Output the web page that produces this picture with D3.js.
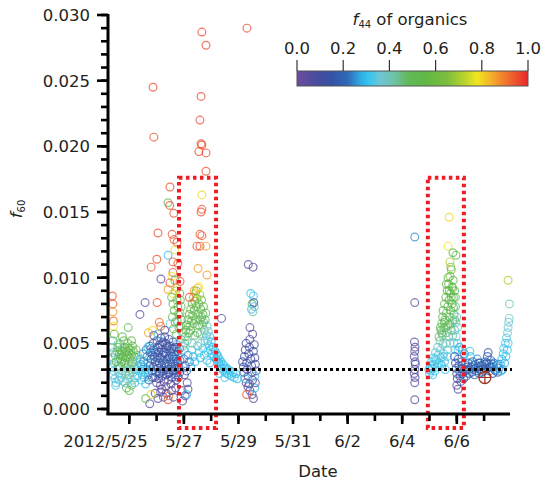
<!DOCTYPE html>
<html><head><meta charset="utf-8">
<script src="https://cdn.jsdelivr.net/npm/d3@7"></script>
<style>
body{margin:0;background:#fff}
text{font-family:"DejaVu Sans","Liberation Sans",sans-serif;fill:#231f20}
</style>
</head><body>
<svg id="c" width="546" height="483"></svg>
<script>
// ---------- DATA: [day of May (June d = 31+d), f60, f44] ----------
const earlyMass = [
[24.38,0.0086,0.95],[24.40,0.0080,0.93],[24.40,0.0074,0.86],[24.42,0.0067,0.92],[24.42,0.0063,0.78],[24.45,0.0057,0.55],
[24.40,0.0052,0.45],[24.38,0.0047,0.40],[24.42,0.0043,0.35],[24.40,0.0039,0.38],[24.45,0.0035,0.33],[24.38,0.0032,0.36],
[24.43,0.0029,0.34],[24.40,0.0026,0.32],[24.47,0.0023,0.35],[24.52,0.0020,0.34],[24.55,0.0044,0.42],[24.58,0.0038,0.40],
[24.60,0.0033,0.45],[24.55,0.0030,0.38],[24.62,0.0027,0.36],[24.65,0.0049,0.48],[24.68,0.0045,0.50],[24.70,0.0041,0.47],
[24.72,0.0036,0.52],[24.66,0.0032,0.44],[24.75,0.0029,0.40],[24.70,0.0024,0.36],[24.78,0.0021,0.38],[24.80,0.0052,0.52],
[24.82,0.0047,0.55],[24.85,0.0043,0.50],[24.88,0.0039,0.53],[24.82,0.0035,0.48],[24.90,0.0031,0.45],[24.86,0.0027,0.42],
[24.92,0.0023,0.40],[24.95,0.0050,0.55],[24.98,0.0046,0.52],[25.00,0.0042,0.50],[25.02,0.0038,0.55],[24.96,0.0034,0.50],
[25.05,0.0030,0.47],[25.00,0.0026,0.44],[24.90,0.0016,0.50],[25.00,0.0014,0.52],[25.08,0.0018,0.48],[25.12,0.0048,0.50],
[25.15,0.0044,0.52],[25.18,0.0040,0.48],[25.12,0.0036,0.50],[25.20,0.0032,0.45],[25.15,0.0028,0.40],[25.22,0.0024,0.36],
[25.25,0.0045,0.48],[25.30,0.0041,0.45],[25.28,0.0037,0.42],[25.32,0.0033,0.38],[25.35,0.0029,0.35],[25.30,0.0025,0.33],
[24.96,0.0062,0.50],[24.60,0.0050,0.38],[24.75,0.0055,0.50],[25.08,0.0052,0.55],[24.50,0.0018,0.33],[25.20,0.0020,0.32]
];
const earlyExtra = [
[24.48,0.0041,0.50],[24.52,0.0036,0.48],[24.58,0.0047,0.52],[24.63,0.0042,0.55],[24.68,0.0038,0.50],[24.74,0.0044,0.53],
[24.78,0.0040,0.55],[24.84,0.0037,0.52],[24.90,0.0044,0.55],[24.94,0.0041,0.50],[25.04,0.0045,0.52],[25.08,0.0041,0.50],
[25.10,0.0034,0.45],[25.25,0.0030,0.32],[24.62,0.0022,0.33],[24.85,0.0020,0.35],[25.12,0.0022,0.35],[24.95,0.0029,0.38]
];
const preBoxMass = [
[25.40,0.0038,0.30],[25.42,0.0034,0.28],[25.45,0.0030,0.31],[25.48,0.0026,0.30],[25.44,0.0022,0.33],[25.50,0.0042,0.27],
[25.52,0.0036,0.25],[25.55,0.0032,0.30],[25.58,0.0028,0.29],[25.54,0.0024,0.32],[25.60,0.0019,0.30],[25.62,0.0045,0.22],
[25.65,0.0040,0.24],[25.68,0.0035,0.26],[25.66,0.0030,0.30],[25.70,0.0026,0.28],[25.72,0.0022,0.18],[25.75,0.0048,0.18],
[25.78,0.0043,0.20],[25.80,0.0038,0.15],[25.76,0.0033,0.22],[25.82,0.0029,0.25],[25.85,0.0024,0.12],
[25.88,0.0050,0.15],[25.90,0.0045,0.12],[25.92,0.0040,0.18],[25.95,0.0036,0.20],[25.88,0.0032,0.14],[25.98,0.0028,0.22],
[25.93,0.0024,0.10],[26.00,0.0020,0.05],[26.02,0.0052,0.10],[26.05,0.0047,0.16],[26.08,0.0043,0.13],[26.03,0.0039,0.19],
[26.10,0.0035,0.15],[26.06,0.0031,0.12],[26.12,0.0027,0.18],[26.08,0.0023,0.08],[26.14,0.0018,0.04],[26.16,0.0054,0.12],
[26.20,0.0049,0.14],[26.18,0.0045,0.10],[26.22,0.0041,0.16],[26.25,0.0037,0.13],[26.19,0.0033,0.18],[26.27,0.0029,0.15],
[26.23,0.0025,0.11],[26.28,0.0021,0.06],[26.20,0.0015,0.03],[26.30,0.0055,0.08],[26.33,0.0050,0.15],[26.36,0.0046,0.12],
[26.32,0.0042,0.18],[26.38,0.0038,0.14],[26.35,0.0034,0.16],[26.40,0.0030,0.12],[26.37,0.0026,0.10],[26.42,0.0022,0.07],
[26.34,0.0017,0.02],[26.45,0.0053,0.12],[26.48,0.0048,0.17],[26.50,0.0044,0.14],[26.46,0.0040,0.20],[26.52,0.0036,0.15],
[26.55,0.0032,0.12],[26.50,0.0028,0.18],[26.57,0.0024,0.09],[26.53,0.0019,0.05],[26.60,0.0051,0.18],[26.63,0.0046,0.14],
[26.65,0.0042,0.20],[26.62,0.0038,0.16],[26.68,0.0034,0.22],[26.66,0.0030,0.18],[26.70,0.0026,0.15],[26.72,0.0022,0.10],
[26.75,0.0049,0.25],[26.78,0.0044,0.20],[26.80,0.0040,0.28],[26.77,0.0036,0.22],[26.82,0.0032,0.18],[26.85,0.0028,0.15],
[26.80,0.0024,0.12],
[25.95,0.0012,0.05],[26.05,0.0008,0.08],[26.15,0.0013,0.02],[26.25,0.0009,0.06],[26.35,0.0012,0.03],[26.45,0.0010,0.90],
[26.42,0.0007,0.95],[26.55,0.0014,0.04],[26.62,0.0009,0.07],[26.70,0.0016,0.05],[25.75,0.0004,0.04],[25.60,0.0008,0.50],
[25.80,0.0011,0.75],
[25.39,0.0072,0.03],[25.58,0.0081,0.02],[25.70,0.0058,0.85],[25.85,0.0060,0.80],[25.90,0.0056,0.03],[26.15,0.0063,0.90],
[26.05,0.0057,0.30],[26.30,0.0060,0.05],[26.16,0.0099,0.04]
];
const preBoxExtra = [
[25.96,0.0043,0.14],[26.00,0.0033,0.12],[26.11,0.0049,0.10],[26.14,0.0039,0.16],[26.24,0.0051,0.15],[26.28,0.0043,0.12],
[26.30,0.0035,0.20],[26.40,0.0048,0.10],[26.42,0.0034,0.18],[26.44,0.0027,0.14],[26.56,0.0046,0.12],[26.58,0.0040,0.18],
[26.60,0.0029,0.14],[26.70,0.0047,0.16],[26.72,0.0038,0.12],[26.74,0.0031,0.20],[26.84,0.0046,0.22],[26.86,0.0037,0.18],
[25.85,0.0041,0.16],[25.80,0.0046,0.25],[25.68,0.0047,0.30],[26.20,0.0029,0.20],[26.08,0.0027,0.15]
];
const highScatter = [
[25.87,0.0245,0.96],[25.90,0.0207,0.96],[26.05,0.0134,0.95],[26.01,0.0114,0.95],[25.80,0.0108,0.94],[26.02,0.0081,0.95],
[26.10,0.0066,0.92],[26.49,0.0169,0.95],[26.42,0.0157,0.50],[26.48,0.0155,0.95],[26.63,0.0149,0.95],[26.57,0.0133,0.95],
[26.64,0.0129,0.94],[26.75,0.0127,0.95],[26.67,0.0121,0.80],[26.42,0.0117,0.30],[26.60,0.0112,0.95],[26.78,0.0111,0.94],
[26.60,0.0104,0.95],[26.56,0.0101,0.78],[26.67,0.0098,0.55],[26.49,0.0096,0.95],[26.86,0.0097,0.95],[26.42,0.0091,0.86],
[26.60,0.0088,0.76],[26.75,0.0092,0.85],
[27.66,0.0287,0.96],[27.81,0.0277,0.96],[27.63,0.0238,0.96],[27.59,0.0220,0.96],[27.63,0.0202,0.96],[27.66,0.0201,0.95],
[27.55,0.0196,0.96],[27.81,0.0195,0.96],[27.81,0.0181,0.95],[27.66,0.0163,0.80],[27.63,0.0150,0.95],[27.66,0.0152,0.94],
[27.59,0.0133,0.95],[27.66,0.0132,0.94],[27.48,0.0124,0.95],[27.59,0.0124,0.95],[27.81,0.0124,0.86],[27.52,0.0107,0.86],
[27.85,0.0102,0.86],[29.31,0.0290,0.96]
];
const box1Peak = [
[26.55,0.0085,0.55],[26.60,0.0080,0.50],[26.65,0.0075,0.58],[26.58,0.0070,0.52],[26.68,0.0066,0.50],[26.62,0.0061,0.55],
[26.72,0.0057,0.48],[26.75,0.0083,0.62],[26.78,0.0078,0.55],[26.80,0.0072,0.52],[26.76,0.0067,0.45],[26.82,0.0062,0.50],
[26.70,0.0090,0.70],[26.50,0.0065,0.35],
[26.85,0.0088,0.55],[26.87,0.0083,0.52],[26.90,0.0078,0.50],[26.86,0.0073,0.55],[26.92,0.0068,0.48],[26.88,0.0063,0.52],
[26.95,0.0058,0.45],[26.90,0.0053,0.40],[26.97,0.0048,0.35],
[27.00,0.0045,0.40],[27.03,0.0050,0.45],[27.05,0.0055,0.50],[27.08,0.0060,0.52],[27.10,0.0064,0.48],[27.12,0.0052,0.42],
[27.15,0.0068,0.52],[27.18,0.0058,0.50],[27.20,0.0072,0.55],[27.22,0.0063,0.50],[27.25,0.0076,0.52],[27.28,0.0067,0.48],
[27.30,0.0080,0.55],[27.32,0.0071,0.50],[27.35,0.0085,0.88],[27.38,0.0075,0.55],[27.40,0.0082,0.58],[27.42,0.0088,0.80],
[27.45,0.0078,0.52],[27.48,0.0084,0.60],[27.50,0.0092,0.85],[27.52,0.0072,0.50],[27.55,0.0080,0.55],[27.58,0.0087,0.70],
[27.60,0.0068,0.48],[27.62,0.0076,0.52],[27.65,0.0083,0.62],[27.68,0.0064,0.45],[27.70,0.0072,0.50],[27.72,0.0078,0.52],
[27.75,0.0060,0.42],[27.78,0.0068,0.46],[27.80,0.0073,0.50],[27.82,0.0056,0.38],[27.85,0.0063,0.40],[27.88,0.0052,0.34],
[27.90,0.0059,0.36],[27.92,0.0048,0.32],[27.95,0.0055,0.33],[27.98,0.0045,0.30],[28.00,0.0051,0.31],[28.03,0.0042,0.30],
[28.06,0.0047,0.30],[28.10,0.0040,0.31],[28.14,0.0044,0.30],[28.18,0.0038,0.29],[27.38,0.0090,0.86],[27.20,0.0085,0.96],
[27.00,0.0038,0.20],[27.05,0.0033,0.15],[27.10,0.0029,0.18],[27.02,0.0026,0.10],[27.15,0.0041,0.25],[27.20,0.0036,0.22],
[27.25,0.0032,0.28],[27.30,0.0045,0.32],[27.35,0.0040,0.30],[27.40,0.0036,0.30],[27.50,0.0048,0.35],[27.55,0.0043,0.33],
[27.60,0.0039,0.30],[27.70,0.0046,0.32],[27.75,0.0041,0.31],[27.85,0.0037,0.30],[27.95,0.0035,0.30],[27.12,0.0020,0.05],
[27.05,0.0010,0.05],[27.15,0.0015,0.08],[26.93,0.0014,0.05],[27.10,0.0011,0.30],[26.95,0.0006,0.05]
];
const box1Extra = [
[27.25,0.0060,0.52],[27.35,0.0065,0.50],[27.45,0.0068,0.52],[27.55,0.0064,0.50],[27.65,0.0070,0.50],[27.72,0.0066,0.48],
[27.40,0.0056,0.46],[27.50,0.0058,0.48],[27.60,0.0057,0.44],[27.30,0.0050,0.42],[27.62,0.0050,0.40],[27.78,0.0052,0.36],
[27.88,0.0044,0.32],[27.45,0.0090,0.62],[27.55,0.0093,0.78]
];
const postBoxTrail = [
[28.20,0.0042,0.30],[28.22,0.0037,0.31],[28.25,0.0040,0.30],[28.28,0.0035,0.29],[28.30,0.0038,0.30],[28.33,0.0033,0.31],
[28.36,0.0036,0.30],[28.40,0.0031,0.29],[28.42,0.0034,0.32],[28.45,0.0029,0.30],[28.48,0.0033,0.30],[28.52,0.0028,0.31],
[28.55,0.0031,0.30],[28.58,0.0027,0.32],[28.62,0.0030,0.30],[28.65,0.0026,0.31],[28.70,0.0029,0.30],[28.75,0.0025,0.30],
[28.80,0.0028,0.31],[28.85,0.0024,0.32],[28.90,0.0027,0.30],[28.95,0.0023,0.29],[28.38,0.0069,0.05],[28.30,0.0027,0.30],
[28.50,0.0024,0.33]
];
const may29Column = [
[29.36,0.0110,0.05],[29.54,0.0108,0.06],[29.45,0.0088,0.30],[29.55,0.0086,0.33],[29.50,0.0080,0.50],[29.58,0.0078,0.35],
[29.48,0.0076,0.30],[29.53,0.0074,0.40],[29.56,0.0081,0.08],[29.42,0.0062,0.04],[29.52,0.0057,0.05],
[29.15,0.0036,0.15],[29.18,0.0032,0.12],[29.20,0.0028,0.18],[29.22,0.0040,0.10],[29.25,0.0045,0.08],[29.28,0.0050,0.12],
[29.30,0.0035,0.15],[29.32,0.0030,0.10],[29.35,0.0025,0.06],[29.38,0.0042,0.14],[29.40,0.0047,0.05],[29.42,0.0053,0.08],
[29.45,0.0038,0.12],[29.48,0.0033,0.16],[29.50,0.0028,0.10],[29.52,0.0022,0.05],[29.55,0.0044,0.18],[29.58,0.0049,0.10],
[29.60,0.0039,0.06],[29.62,0.0034,0.12],[29.65,0.0029,0.08],[29.28,0.0020,0.04],[29.35,0.0017,0.05],[29.42,0.0014,0.08],
[29.50,0.0011,0.04],[29.55,0.0008,0.06],[29.60,0.0016,0.30],[29.30,0.0011,0.95],[29.40,0.0019,0.05],[29.62,0.0020,0.03],
[29.25,0.0023,0.28],[29.60,0.0025,0.30]
];
const june4Column = [
[35.46,0.0131,0.25],[35.46,0.0081,0.05],[35.45,0.0051,0.05],[35.47,0.0047,0.08],[35.46,0.0044,0.04],[35.44,0.0040,0.07],
[35.47,0.0036,0.05],[35.48,0.0034,0.10],[35.46,0.0030,0.06],[35.44,0.0027,0.04],[35.47,0.0024,0.08],[35.46,0.0020,0.05],
[35.46,0.0007,0.05]
];
const box2Peak = [
[35.98,0.0030,0.30],[36.00,0.0027,0.32],[36.03,0.0033,0.30],[36.05,0.0029,0.31],[36.08,0.0036,0.33],[36.10,0.0031,0.30],
[36.12,0.0026,0.32],[36.15,0.0039,0.34],[36.18,0.0034,0.31],[36.20,0.0029,0.30],[36.22,0.0043,0.35],[36.25,0.0037,0.32],
[36.28,0.0032,0.30],[36.30,0.0047,0.38],[36.32,0.0041,0.34],[36.35,0.0035,0.31],[36.38,0.0052,0.40],[36.40,0.0045,0.36],
[36.42,0.0039,0.32],[36.45,0.0033,0.30],[36.48,0.0056,0.45],[36.50,0.0049,0.38],[36.52,0.0042,0.34],[36.55,0.0036,0.31],
[36.58,0.0030,0.30],
[36.42,0.0060,0.48],[36.45,0.0065,0.50],[36.48,0.0070,0.52],[36.50,0.0075,0.50],[36.52,0.0062,0.46],[36.55,0.0080,0.52],
[36.57,0.0068,0.50],[36.60,0.0085,0.55],[36.62,0.0073,0.50],[36.63,0.0058,0.45],[36.65,0.0090,0.55],[36.67,0.0078,0.52],
[36.68,0.0064,0.48],[36.70,0.0095,0.56],[36.72,0.0083,0.53],[36.73,0.0070,0.50],[36.75,0.0101,0.58],[36.77,0.0088,0.55],
[36.78,0.0075,0.50],[36.80,0.0106,0.60],[36.82,0.0093,0.56],[36.83,0.0080,0.52],[36.85,0.0067,0.48],[36.87,0.0098,0.55],
[36.88,0.0085,0.50],[36.90,0.0072,0.46],[36.92,0.0090,0.52],[36.93,0.0060,0.42],[36.95,0.0078,0.48],[36.97,0.0066,0.40],
[36.98,0.0055,0.36],[37.00,0.0070,0.38],[37.02,0.0050,0.34],[37.03,0.0062,0.35],[37.05,0.0045,0.32],[36.60,0.0050,0.40],
[36.70,0.0055,0.42],[36.80,0.0060,0.45],[36.65,0.0045,0.36],
[36.72,0.0146,0.80],[36.68,0.0124,0.78],[36.75,0.0112,0.72],[36.86,0.0119,0.55],[36.97,0.0117,0.52],[36.78,0.0108,0.65]
];
const box2Extra = [
[36.35,0.0055,0.45],[36.40,0.0062,0.50],[36.45,0.0058,0.48],[36.55,0.0066,0.52],[36.60,0.0062,0.48],[36.62,0.0095,0.55],
[36.68,0.0100,0.58],[36.72,0.0090,0.56],[36.80,0.0085,0.52],[36.85,0.0092,0.55],[36.88,0.0077,0.50],[36.92,0.0068,0.46],
[36.95,0.0085,0.50],[36.75,0.0065,0.48],[36.50,0.0040,0.35],[36.42,0.0034,0.33],[36.65,0.0040,0.34],[36.75,0.0050,0.38],
[36.85,0.0056,0.40],[36.90,0.0050,0.36],[36.95,0.0045,0.32],[36.20,0.0038,0.33]
];
const postBox2 = [
[36.92,0.0040,0.18],[36.95,0.0035,0.15],[36.98,0.0031,0.20],[37.00,0.0027,0.12],[37.02,0.0023,0.08],[37.05,0.0038,0.18],
[37.08,0.0033,0.15],[37.10,0.0029,0.17],[37.12,0.0025,0.12],[37.15,0.0021,0.06],[37.18,0.0036,0.20],[37.20,0.0031,0.16],
[37.22,0.0027,0.14],[37.25,0.0023,0.18],[37.28,0.0042,0.22],[37.30,0.0034,0.18],[37.32,0.0029,0.16],[37.35,0.0025,0.18],
[37.00,0.0018,0.05],[37.05,0.0015,0.04],[37.10,0.0047,0.28],[37.20,0.0045,0.30],
[37.38,0.0030,0.20],[37.42,0.0035,0.18],[37.45,0.0027,0.22],[37.48,0.0044,0.32],[37.50,0.0040,0.30],[37.52,0.0032,0.20],
[37.55,0.0028,0.18],[37.58,0.0036,0.22],[37.62,0.0030,0.20],[37.65,0.0026,0.16],[37.68,0.0034,0.20],[37.72,0.0029,0.18],
[37.75,0.0038,0.25],[37.78,0.0032,0.22],[37.82,0.0027,0.18],[37.85,0.0035,0.20],[37.88,0.0030,0.17],[37.92,0.0028,0.18],
[37.95,0.0033,0.20],[38.00,0.0029,0.18],[38.05,0.0036,0.20],[38.08,0.0031,0.16],[38.12,0.0040,0.18],[38.15,0.0043,0.16],
[38.18,0.0034,0.18],[38.20,0.0029,0.20],[38.25,0.0037,0.22],[38.28,0.0032,0.20],[38.32,0.0027,0.18],[38.35,0.0035,0.22],
[38.40,0.0030,0.25],[38.45,0.0033,0.24],[38.50,0.0028,0.22],[38.55,0.0031,0.25],
[38.60,0.0034,0.28],[38.65,0.0038,0.30],[38.68,0.0030,0.27],[38.70,0.0042,0.30],[38.72,0.0046,0.32],[38.75,0.0035,0.28],
[38.78,0.0050,0.33],[38.80,0.0040,0.30],[38.82,0.0054,0.34],[38.85,0.0045,0.31],[38.86,0.0058,0.35],[38.88,0.0062,0.36],
[38.90,0.0066,0.36],[38.92,0.0069,0.37],[38.88,0.0050,0.32],[38.93,0.0080,0.40],[38.88,0.0098,0.70]
];
const postBox2Extra = [
[37.40,0.0032,0.16],[37.60,0.0033,0.18],[37.70,0.0031,0.20],[37.80,0.0035,0.20],[37.90,0.0033,0.16],[38.02,0.0034,0.18],
[38.10,0.0035,0.20],[38.22,0.0032,0.18],[38.30,0.0034,0.20],[38.42,0.0029,0.22],[38.52,0.0034,0.26],[38.62,0.0029,0.27]
];
const specialMarker = [[38.03,0.0024]];
const baselineF60 = 0.003;
const boxes = [[26.82,28.18],[35.94,37.26]];   // day ranges of red dotted boxes
const boxTop = 0.0176, boxBottom = -0.00145;
const yMajor = [0,0.005,0.010,0.015,0.020,0.025,0.030];
const xMajorDays = [25,27,29,31,33,35,37];
const cbTicks = [0,0.2,0.4,0.6,0.8,1.0];
const cmapStops = [0,0.08,0.15,0.22,0.28,0.31,0.36,0.42,0.48,0.55,0.65,0.72,0.78,0.84,0.90,1.0];
const cmapColors = ["#6d4c9f","#4a4c9e","#3551a4","#2f6bb8","#2fb0e6","#35c5ee","#6ec6d5","#6fc2a8","#62b95a",
  "#5fb845","#7cbe3e","#b5d22e","#f0e61f","#f5b02a","#f07a2e","#e8262a"];

// ---------- SCALES ----------
const dayToDate = d => new Date(Date.UTC(2012,4,1) + (d-1)*864e5);
const x = d3.scaleUtc().domain([dayToDate(24.22), dayToDate(38.95)]).range([108,510]);
const y = d3.scaleLinear().domain([0,0.03]).range([409,15]);
const color = d3.scaleLinear().domain(cmapStops).range(cmapColors).interpolate(d3.interpolateRgb).clamp(true);

const svg = d3.select("#c");
const FS = 16.5;

// ---------- POINTS ----------
const allPts = [].concat(earlyMass, earlyExtra, preBoxMass, preBoxExtra, box1Peak, box1Extra, postBoxTrail,
  may29Column, june4Column, box2Peak, box2Extra, postBox2, postBox2Extra, highScatter);
svg.append("g").selectAll("circle").data(allPts).join("circle")
  .attr("cx", d => x(dayToDate(d[0]))).attr("cy", d => y(d[1])).attr("r", 3.9)
  .attr("fill","none").attr("stroke", d => color(d[2])).attr("stroke-width",1.2).attr("stroke-opacity",0.75);

// special crossed marker
const mk = svg.append("g").selectAll("g").data(specialMarker).join("g")
  .attr("transform", d => `translate(${x(dayToDate(d[0]))},${y(d[1])})`);
mk.append("circle").attr("r",6).attr("fill","none").attr("stroke","#9a3322").attr("stroke-width",1.3);
mk.append("path").attr("d","M-6,0H6M0,-6V6").attr("stroke","#9a3322").attr("stroke-width",1.2);

// ---------- BASELINE ----------
svg.append("line").attr("x1",108).attr("x2",512).attr("y1",y(baselineF60)).attr("y2",y(baselineF60))
  .attr("stroke","#000").attr("stroke-width",3).attr("stroke-dasharray","3,3");

// ---------- RED BOXES ----------
svg.append("g").selectAll("rect").data(boxes).join("rect")
  .attr("x", d => x(dayToDate(d[0]))).attr("width", d => x(dayToDate(d[1])) - x(dayToDate(d[0])))
  .attr("y", y(boxTop)).attr("height", y(boxBottom) - y(boxTop))
  .attr("fill","none").attr("stroke","#ee1c24").attr("stroke-width",4).attr("stroke-dasharray","3.5,3.5");

// ---------- Y AXIS ----------
const ax = svg.append("g").attr("stroke","#000");
ax.append("line").attr("x1",108).attr("x2",108).attr("y1",y(0.03)-1).attr("y2",415).attr("stroke-width",3);
const yMinor = d3.range(0,31).map(i => i*0.001);
ax.selectAll(".ymi").data(yMinor).join("line")
  .attr("x1",101).attr("x2",108).attr("y1",d=>y(d)).attr("y2",d=>y(d)).attr("stroke-width",2.6);
ax.selectAll(".yma").data(yMajor).join("line")
  .attr("x1",97).attr("x2",108).attr("y1",d=>y(d)).attr("y2",d=>y(d)).attr("stroke-width",2.6);
svg.append("g").selectAll("text").data(yMajor).join("text")
  .attr("x",90).attr("y",d=>y(d)).attr("dy","0.36em").attr("text-anchor","end")
  .attr("font-size",FS).text(d3.format(".3f"));

// ---------- X AXIS ----------
const xAxisY = 414;
ax.append("line").attr("x1",106.5).attr("x2",510).attr("y1",xAxisY).attr("y2",xAxisY).attr("stroke-width",3);
const xMinorDays = d3.range(25,39);
ax.selectAll(".xmi").data(xMinorDays).join("line")
  .attr("x1",d=>x(dayToDate(d))).attr("x2",d=>x(dayToDate(d))).attr("y1",xAxisY).attr("y2",xAxisY+7).attr("stroke-width",2.6);
ax.selectAll(".xma").data(xMajorDays).join("line")
  .attr("x1",d=>x(dayToDate(d))).attr("x2",d=>x(dayToDate(d))).attr("y1",xAxisY).attr("y2",xAxisY+10).attr("stroke-width",2.6);
const fmt = d3.utcFormat("%-m/%-d");
const xl = svg.append("g").selectAll("text").data(xMajorDays).join("text")
  .attr("y",447).attr("font-size",FS).attr("text-anchor","middle")
  .attr("x",d=>x(dayToDate(d))).text(d=>fmt(dayToDate(d)));
// first label: "2012/" prefix, with the month/day part centred on its tick
const first = xl.filter((d,i)=>i===0);
const wMD = first.node().getComputedTextLength();
first.attr("text-anchor","end").attr("x", x(dayToDate(xMajorDays[0])) + wMD/2)
  .text("2012/" + fmt(dayToDate(xMajorDays[0])));

// axis titles
svg.append("text").attr("x",318).attr("y",477).attr("text-anchor","middle").attr("font-size",FS).text("Date");
const yl = svg.append("text").attr("transform","translate(22,209) rotate(-90)").attr("text-anchor","middle").attr("font-size",FS);
yl.append("tspan").attr("font-style","italic").text("f");
yl.append("tspan").attr("font-size",10).attr("dy",3).text("60");

// ---------- COLOUR BAR ----------
const cb = d3.scaleLinear().domain([0,1]).range([297,528]);
const grad = svg.append("defs").append("linearGradient").attr("id","cm").attr("x1","0%").attr("x2","100%");
grad.selectAll("stop").data(cmapStops).join("stop")
  .attr("offset",(d)=>(d*100)+"%").attr("stop-color",(d,i)=>cmapColors[i]);
svg.append("rect").attr("x",cb(0)).attr("y",71).attr("width",cb(1)-cb(0)).attr("height",15)
  .attr("fill","url(#cm)").attr("stroke","#555").attr("stroke-width",1);
svg.append("g").selectAll("line").data(cbTicks).join("line")
  .attr("x1",d=>cb(d)).attr("x2",d=>cb(d)).attr("y1",60).attr("y2",71).attr("stroke","#333").attr("stroke-width",1.2);
svg.append("g").selectAll("text").data(cbTicks).join("text")
  .attr("x",d=>cb(d)).attr("y",54).attr("text-anchor","middle").attr("font-size",FS).text(d3.format(".1f"));
const ct = svg.append("text").attr("x",410).attr("y",25).attr("text-anchor","middle").attr("font-size",FS);
ct.append("tspan").attr("font-style","italic").text("f");
ct.append("tspan").attr("font-size",10).attr("dy",3).text("44");
ct.append("tspan").attr("dy",-3).text(" of organics");
</script>
</body></html>
